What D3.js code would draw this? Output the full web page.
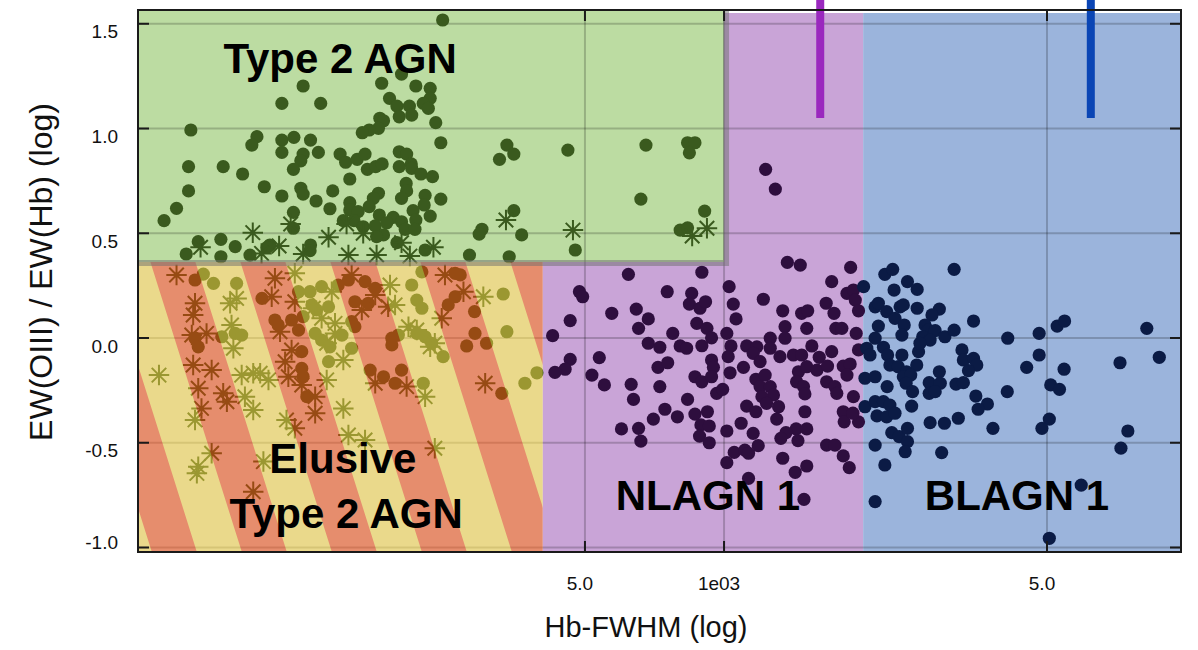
<!DOCTYPE html>
<html><head><meta charset="utf-8">
<script src="https://cdn.jsdelivr.net/npm/d3@7"></script>
<style>
html,body{margin:0;padding:0;background:#fff;}
svg{display:block;}
text{font-family:"Liberation Sans",Arial,Helvetica,sans-serif;}
</style>
</head><body>
<svg id="chart" width="1198" height="650"></svg>
<script>
// ---- data: [log10(Hb-FWHM), log EW(OIII)/EW(Hb)] ----
const type2Circles = [
[2.391,1.518],[2.089,1.203],[2.043,1.120],[2.127,1.120],[2.259,1.216],[2.302,1.260],[2.333,1.203],[2.364,1.192],[2.364,1.144],[2.276,1.144],
[2.292,1.107],[2.319,1.107],[2.349,1.120],[2.360,1.096],[2.297,1.056],[2.324,1.064],[2.255,1.049],[2.263,1.037],[2.252,1.001],[2.232,0.993],
[2.217,0.980],[2.376,1.028],[2.387,0.932],[1.846,0.993],[1.989,0.961],[1.978,0.921],[2.043,0.945],[2.069,0.958],[2.105,0.945],[2.043,0.886],
[2.089,0.878],[2.084,0.846],[2.122,0.886],[2.068,0.805],[1.841,0.818],[1.916,0.818],[1.958,0.783],[1.841,0.702],[1.815,0.619],[1.788,0.560],
[2.005,0.722],[2.043,0.678],[2.084,0.715],[2.089,0.687],[2.117,0.654],[2.153,0.702],[2.147,0.617],[2.169,0.878],[2.181,0.839],[2.206,0.853],
[2.223,0.878],[2.228,0.805],[2.246,0.818],[2.260,0.831],[2.190,0.759],[2.297,0.889],[2.313,0.878],[2.297,0.818],[2.323,0.831],[2.324,0.810],
[2.344,0.783],[2.369,0.770],[2.312,0.738],[2.313,0.702],[2.302,0.667],[2.353,0.681],[2.387,0.663],[2.252,0.691],[2.241,0.667],[2.232,0.627],
[2.190,0.646],[2.190,0.611],[2.208,0.603],[2.068,0.600],[2.351,0.635],[2.327,0.608],[2.364,0.582],[2.254,0.587],[2.284,0.576],[2.176,0.560],
[2.199,0.560],[2.219,0.531],[2.245,0.535],[2.270,0.550],[2.302,0.555],[2.333,0.563],[2.310,0.519],[2.331,0.519],[2.068,0.524],[2.263,0.492],
[2.248,0.484],[2.292,0.455],[2.353,0.420],[1.911,0.471],[1.862,0.460],[1.942,0.436],[1.836,0.401],[1.911,0.388],[1.974,0.396],[2.017,0.444],
[2.011,0.433],[2.105,0.444],[2.104,0.417],[2.530,0.921],[2.545,0.878],[2.514,0.853],[2.545,0.608],[2.476,0.519],[2.470,0.496],[2.562,0.492],
[2.449,0.396],[2.535,0.388],[2.662,0.897],[2.831,0.921],[2.921,0.932],[2.937,0.932],[2.925,0.884],[2.820,0.663],[2.678,0.420],[2.958,0.606],
[2.905,0.515],[2.921,0.526]
];
const type2Stars = [
[1.980,0.503],[2.062,0.544],[2.144,0.481],[1.867,0.433],[2.037,0.439],[2.219,0.500],[2.302,0.455],[2.371,0.433],[2.528,0.563],[2.187,0.396],
[2.089,0.401],[2.248,0.396],[2.320,0.391],[2.183,0.544],[1.999,0.404],[2.673,0.515],[2.931,0.487],[2.963,0.524]
];
const elusiveCircles = [
[1.873,0.305],[1.895,0.261],[1.855,0.277],[1.945,0.261],[2.000,0.189],[2.079,0.221],[2.104,0.221],[2.129,0.245],[2.165,0.253],[2.187,0.277],
[2.223,0.269],[2.245,0.237],[2.201,0.173],[2.230,0.166],[2.324,0.253],[2.346,0.316],[2.418,0.309],[2.429,0.301],[2.522,0.210],[2.335,0.181],
[2.346,0.142],[2.403,0.158],[2.418,0.197],[1.913,0.006],[1.942,0.022],[1.956,0.014],[1.862,-0.042],[1.855,-0.001],[2.028,0.086],[2.035,0.062],
[2.064,0.086],[2.079,0.038],[2.089,0.102],[2.108,0.158],[2.118,0.134],[2.144,0.149],[2.115,0.022],[2.129,-0.010],[2.147,-0.042],[2.173,0.014],
[2.194,0.078],[2.201,0.054],[2.194,-0.049],[2.144,-0.113],[2.086,-0.065],[2.281,-0.001],[2.281,-0.033],[2.295,0.014],[2.335,0.022],[2.353,0.006],
[2.367,-0.025],[2.461,0.022],[2.486,-0.025],[2.443,-0.038],[2.460,0.126],[2.530,0.030],[2.392,-0.089],[2.234,-0.153],[2.263,-0.185],[2.288,-0.216],
[2.302,-0.153],[2.349,-0.216],[2.519,-0.264],[2.569,-0.216],[2.595,-0.166],[2.086,-0.145],[2.089,-0.185],[2.097,-0.280]
];
const elusiveStars = [
[1.815,0.301],[1.855,0.166],[1.851,0.110],[1.848,0.014],[1.880,0.022],[1.931,0.166],[1.945,0.189],[1.934,0.062],[1.938,-0.049],[1.851,-0.129],
[1.891,-0.153],[1.956,-0.177],[1.981,-0.168],[1.996,-0.168],[2.014,-0.200],[1.862,-0.240],[1.916,-0.264],[1.924,-0.304],[1.869,-0.336],[1.855,-0.391],
[1.963,-0.280],[1.981,-0.344],[2.053,-0.391],[2.071,-0.431],[2.115,-0.359],[2.176,-0.336],[2.140,-0.200],[2.115,-0.280],[2.086,-0.224],[2.057,-0.185],
[2.050,-0.113],[2.064,-0.057],[2.039,0.030],[2.021,0.197],[2.028,0.285],[2.071,0.309],[2.151,0.221],[2.129,0.094],[2.158,0.070],[2.176,-0.105],
[2.140,-0.025],[2.194,0.301],[2.216,0.134],[2.245,0.205],[2.288,0.158],[2.277,0.253],[2.389,0.094],[2.396,0.301],[2.436,0.221],[2.479,0.197],
[2.317,0.054],[2.335,0.038],[2.364,-0.042],[2.374,-0.025],[2.353,-0.280],[2.483,-0.216],[2.313,-0.232],[2.245,-0.216],[2.187,-0.463],[2.223,-0.487],
[2.374,-0.526],[1.777,-0.177],[1.891,-0.550],[1.859,-0.646],[1.862,-0.614],[2.003,-0.590],[1.981,-0.734],[2.071,0.173],[2.111,0.142],[2.273,0.149],
[2.158,0.022]
];
const nlagn1 = [
[3.137,0.361],[3.165,0.348],[3.274,0.337],[3.233,0.269],[2.952,0.314],[2.793,0.304],[2.687,0.221],[2.694,0.197],[2.877,0.221],[2.930,0.213],
[2.925,0.162],[2.948,0.142],[2.960,0.173],[3.011,0.245],[3.020,0.162],[3.026,0.091],[3.085,0.185],[3.127,0.130],[3.168,0.118],[3.181,0.130],
[3.221,0.166],[3.238,0.118],[3.266,0.213],[3.280,0.229],[3.284,0.181],[3.291,0.130],[2.757,0.118],[2.810,0.138],[2.836,0.091],[2.815,0.046],
[2.667,0.083],[2.629,0.011],[2.941,0.070],[2.963,0.046],[2.973,0.001],[2.889,0.022],[3.006,0.022],[2.836,-0.025],[2.861,-0.044],[2.905,-0.038],
[2.919,-0.049],[2.952,-0.037],[3.015,-0.038],[3.009,-0.089],[3.049,-0.038],[3.071,-0.042],[3.100,-0.001],[3.132,0.054],[3.132,-0.001],[3.179,0.046],
[3.242,0.046],[3.255,0.046],[3.286,0.022],[3.063,-0.073],[3.100,-0.049],[3.121,-0.089],[3.078,-0.113],[3.150,-0.081],[3.168,-0.081],[3.190,-0.038],
[3.206,-0.092],[3.233,-0.065],[3.291,-0.057],[2.667,-0.102],[2.656,-0.149],[2.634,-0.164],[2.730,-0.094],[2.714,-0.177],[2.741,-0.224],[2.799,-0.221],
[2.804,-0.293],[2.857,-0.140],[2.878,-0.118],[2.861,-0.232],[2.973,-0.105],[2.977,-0.140],[2.937,-0.185],[2.952,-0.209],[2.973,-0.185],[3.013,-0.166],
[3.042,-0.140],[3.069,-0.197],[3.089,-0.177],[3.078,-0.232],[3.100,-0.232],[3.107,-0.272],[3.082,-0.280],[3.092,-0.312],[2.984,-0.264],[2.997,-0.245],
[2.921,-0.293],[2.872,-0.340],[2.847,-0.387],[2.899,-0.376],[2.937,-0.363],[2.964,-0.352],[2.950,-0.415],[2.968,-0.420],[2.947,-0.468],[2.968,-0.500],
[3.006,-0.444],[3.037,-0.407],[3.063,-0.455],[3.074,-0.514],[3.049,-0.325],[3.069,-0.352],[3.118,-0.328],[3.114,-0.387],[3.161,-0.161],[3.157,-0.209],
[3.172,-0.232],[3.175,-0.267],[3.179,-0.137],[3.201,-0.153],[3.224,-0.134],[3.222,-0.209],[3.240,-0.232],[3.244,-0.264],[3.258,-0.134],[3.273,-0.124],
[3.266,-0.177],[3.280,-0.280],[3.175,-0.352],[3.156,-0.434],[3.179,-0.434],[3.160,-0.490],[3.134,-0.452],[3.123,-0.479],[3.258,-0.352],[3.260,-0.400],
[3.291,-0.400],[3.279,-0.359],[3.222,-0.511],[3.240,-0.511],[3.258,-0.563],[3.271,-0.619],[2.778,-0.434],[2.815,-0.431],[2.820,-0.492],[3.022,-0.546],
[3.006,-0.595],[3.045,-0.535],[3.053,-0.550],[3.127,-0.574],[3.179,-0.611],[3.154,-0.641],[3.053,-0.670],[3.173,-0.770],[3.090,0.805],[3.111,0.711]
];
const blagn1 = [
[3.498,0.328],[3.348,0.304],[3.365,0.328],[3.397,0.269],[3.418,0.232],[3.368,0.229],[3.302,0.245],[3.327,0.149],[3.334,0.166],[3.352,0.126],
[3.381,0.149],[3.388,0.158],[3.418,0.142],[3.466,0.138],[3.450,0.110],[3.370,0.094],[3.334,0.057],[3.390,0.062],[3.435,0.062],[3.442,0.038],
[3.457,0.035],[3.385,0.014],[3.327,-0.001],[3.430,0.006],[3.446,-0.010],[3.478,0.006],[3.498,0.038],[3.540,0.081],[3.614,-0.001],[3.682,0.022],
[3.721,0.057],[3.737,0.081],[3.915,0.046],[3.309,-0.049],[3.345,-0.044],[3.354,-0.081],[3.316,-0.081],[3.385,-0.081],[3.421,-0.065],[3.424,-0.025],
[3.515,-0.057],[3.518,-0.105],[3.540,-0.097],[3.547,-0.129],[3.529,-0.156],[3.682,-0.081],[3.655,-0.140],[3.736,-0.149],[3.857,-0.118],[3.942,-0.092],
[3.359,-0.129],[3.377,-0.137],[3.395,-0.161],[3.417,-0.129],[3.305,-0.192],[3.327,-0.185],[3.388,-0.185],[3.404,-0.177],[3.466,-0.161],[3.444,-0.213],
[3.468,-0.216],[3.502,-0.220],[3.518,-0.213],[3.353,-0.232],[3.394,-0.216],[3.408,-0.256],[3.444,-0.264],[3.457,-0.256],[3.613,-0.256],[3.707,-0.224],
[3.726,-0.245],[3.305,-0.328],[3.327,-0.304],[3.345,-0.304],[3.359,-0.320],[3.406,-0.325],[3.545,-0.277],[3.570,-0.315],[3.550,-0.340],[3.331,-0.372],
[3.352,-0.376],[3.370,-0.359],[3.507,-0.383],[3.446,-0.404],[3.477,-0.407],[3.582,-0.431],[3.704,-0.387],[3.688,-0.431],[3.363,-0.452],[3.379,-0.471],
[3.397,-0.431],[3.397,-0.495],[3.392,-0.543],[3.327,-0.511],[3.471,-0.547],[3.874,-0.444],[3.859,-0.526],[3.348,-0.606],[3.327,-0.781],[3.773,-0.702],
[3.704,-0.956]
];
const xTickValues = [500, 1000, 5000];
const xTickLabels = ["5.0", "1e03", "5.0"];
const yTickValues = [-1.0, -0.5, 0.0, 0.5, 1.0, 1.5];
const yTickLabels = ["-1.0", "-0.5", "0.0", "0.5", "1.0", "1.5"];
const regionFwhmEdges = [405, 1000, 2000];   // Elusive|NLAGN, Type 2 right edge, NLAGN|BLAGN
const type2RatioFloor = 0.363;
const markerLineFwhm = [1615, 6220];
const markerLineBottom = [1.05, 1.05];
const regionLabels = ["Type 2 AGN", "Elusive", "Type 2 AGN", "NLAGN 1", "BLAGN 1"];

// ---- layout ----
const svg = d3.select("#chart");
const m = {left: 138, right: 1181, top: 11, bottom: 552};
const x = d3.scaleLog().domain([10 ** 1.7316, 10 ** 3.989]).range([m.left, m.right]);
const y = d3.scaleLinear().domain([-1.0215, 1.561]).range([m.bottom, m.top]);
const px = d => x(10 ** d[0]);
const py = d => y(d[1]);

const defs = svg.append("defs");
const pat = defs.append("pattern").attr("id", "stripes")
  .attr("patternUnits", "userSpaceOnUse").attr("width", 90).attr("height", 20)
  .attr("patternTransform", "skewX(17.5) translate(67.8,0)");
pat.append("rect").attr("width", 90).attr("height", 20).attr("fill", "rgb(220,192,61)");
pat.append("rect").attr("width", 45).attr("height", 20).attr("fill", "rgb(213,65,12)");

const xEl = x(regionFwhmEdges[0]), x1k = x(regionFwhmEdges[1]), x2k = x(regionFwhmEdges[2]);
const yFloor = y(type2RatioFloor);
const fillTop = m.top + 2;

// region fills
svg.append("rect").attr("x", xEl).attr("y", fillTop).attr("width", x2k - xEl).attr("height", m.bottom - fillTop).attr("fill", "#c9a4d7");
svg.append("rect").attr("x", x2k).attr("y", fillTop).attr("width", m.right - x2k).attr("height", m.bottom - fillTop).attr("fill", "#9bb4dc");
svg.append("rect").attr("x", m.left).attr("y", m.top).attr("width", x1k - m.left).attr("height", yFloor - m.top).attr("fill", "#bcdca2");

// grid
const grid = svg.append("g").attr("stroke", "rgba(0,0,0,0.2)").attr("stroke-width", 2);
yTickValues.forEach(t => grid.append("line").attr("x1", m.left).attr("x2", m.right).attr("y1", y(t)).attr("y2", y(t)));
xTickValues.forEach(t => grid.append("line").attr("x1", x(t)).attr("x2", x(t)).attr("y1", m.top).attr("y2", m.bottom));

// symbols
const asterisk = {draw(ctx, size) {
  const r = Math.sqrt(size) / 2, d = r * Math.SQRT1_2;
  ctx.moveTo(-r, 0); ctx.lineTo(r, 0);
  ctx.moveTo(0, -r); ctx.lineTo(0, r);
  ctx.moveTo(-d, -d); ctx.lineTo(d, d);
  ctx.moveTo(-d, d); ctx.lineTo(d, -d);
}};
const starPath = d3.symbol().type(asterisk).size(420)();

function circles(data, color) {
  svg.append("g").selectAll("circle").data(data).join("circle")
    .attr("cx", px).attr("cy", py).attr("r", 6.6).attr("fill", color);
}
function stars(data, color) {
  svg.append("g").selectAll("path").data(data).join("path")
    .attr("d", starPath).attr("transform", d => `translate(${px(d)},${py(d)})`)
    .attr("fill", "none").attr("stroke", color).attr("stroke-width", 2);
}
const darkGreen = "#3a5a1e";
circles(type2Circles, darkGreen);
stars(type2Stars, darkGreen);
circles(elusiveCircles, darkGreen);
stars(elusiveStars, darkGreen);
circles(nlagn1, "#2e0e3e");
circles(blagn1, "#0b1b45");

// striped overlay on elusive region
svg.append("rect").attr("x", m.left).attr("y", yFloor).attr("width", xEl - m.left).attr("height", m.bottom - yFloor)
  .attr("fill", "url(#stripes)").attr("opacity", 0.6);

// type 2 border
svg.append("path")
  .attr("d", `M${x1k + 2},${m.top} L${x1k + 2},${yFloor + 1} L${m.left},${yFloor + 1}`)
  .attr("fill", "none").attr("stroke", "rgb(110,110,110)").attr("stroke-opacity", 0.5).attr("stroke-width", 6);

// marker bars
const barColors = ["#9a28be", "#0a45b5"];
markerLineFwhm.forEach((f, i) => {
  svg.append("line").attr("x1", x(f)).attr("x2", x(f)).attr("y1", 0).attr("y2", y(markerLineBottom[i]))
    .attr("stroke", barColors[i]).attr("stroke-width", 8);
});

// frame & ticks
svg.append("rect").attr("x", m.left).attr("y", m.top - 1).attr("width", m.right - m.left).attr("height", m.bottom - m.top + 1)
  .attr("fill", "none").attr("stroke", "#1a1a1a").attr("stroke-width", 2);
const tk = svg.append("g").attr("stroke", "#1a1a1a").attr("stroke-width", 2);
yTickValues.forEach(t => {
  tk.append("line").attr("x1", m.left).attr("x2", m.left + 11).attr("y1", y(t)).attr("y2", y(t));
  tk.append("line").attr("x1", m.right).attr("x2", m.right - 11).attr("y1", y(t)).attr("y2", y(t));
});
xTickValues.forEach(t => {
  tk.append("line").attr("x1", x(t)).attr("x2", x(t)).attr("y1", m.top - 1).attr("y2", m.top + 10);
  tk.append("line").attr("x1", x(t)).attr("x2", x(t)).attr("y1", m.bottom).attr("y2", m.bottom - 11);
});

// tick labels
yTickValues.forEach((t, i) => {
  svg.append("text").attr("x", 118).attr("y", Math.min(y(t) + 8, m.bottom - 10)).attr("dy", "0.35em")
    .attr("text-anchor", "end").attr("font-size", 19).attr("fill", "#111").text(yTickLabels[i]);
});
xTickValues.forEach((t, i) => {
  svg.append("text").attr("x", x(t) - 5).attr("y", 590).attr("text-anchor", "middle")
    .attr("font-size", 19).attr("fill", "#111").text(xTickLabels[i]);
});

// axis titles
svg.append("text").attr("x", 646).attr("y", 637).attr("text-anchor", "middle")
  .attr("font-size", 29).attr("fill", "#111").text("Hb-FWHM (log)");
svg.append("text").attr("transform", "translate(52,272) rotate(-90)").attr("text-anchor", "middle")
  .attr("font-size", 32).attr("fill", "#111").text("EW(OIII) / EW(Hb) (log)");

// region labels (anchored in data space)
const labelAnchors = [[2.169, 1.265], [2.175, -0.644], [2.182, -0.907], [2.965, -0.821], [3.634, -0.821]];
regionLabels.forEach((s, i) => {
  svg.append("text").attr("x", px(labelAnchors[i])).attr("y", py(labelAnchors[i]))
    .attr("text-anchor", "middle").attr("font-size", 42).attr("font-weight", "bold").attr("fill", "#000").text(s);
});
</script>
</body></html>
